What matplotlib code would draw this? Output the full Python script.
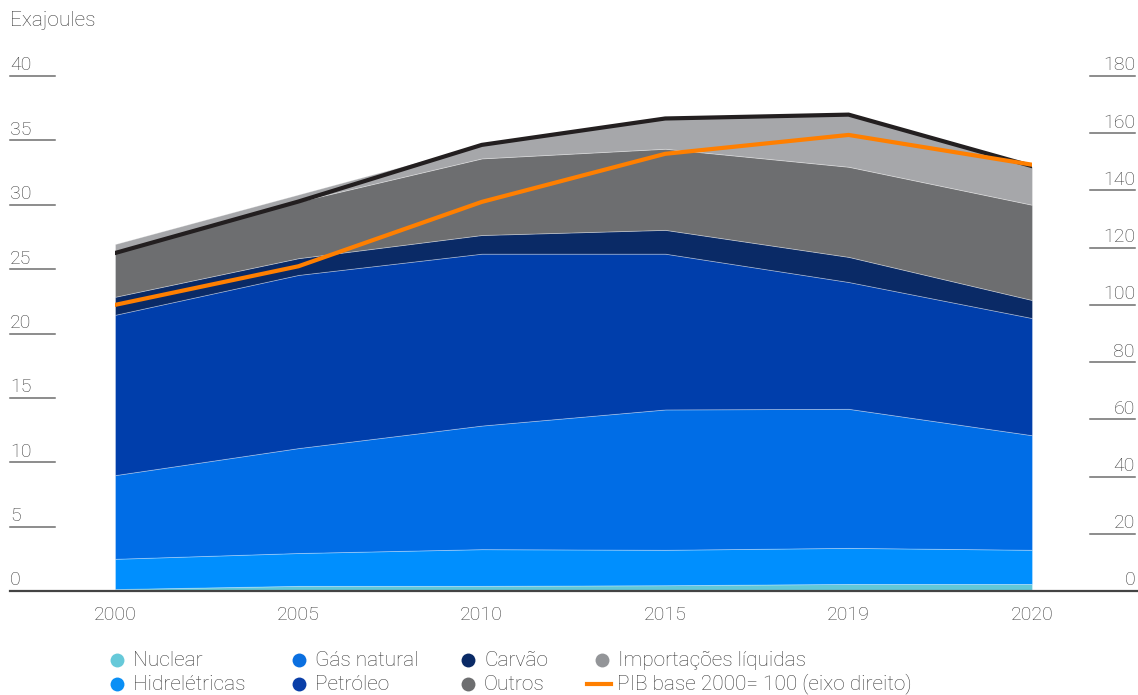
import matplotlib
matplotlib.use("Agg")
import matplotlib.pyplot as plt
import matplotlib.transforms as mtransforms
from matplotlib.lines import Line2D
import numpy as np

plt.rcParams['font.family'] = ['Roboto', 'DejaVu Sans']
plt.rcParams['font.weight'] = 'light'

# anos (espaçamento igual no eixo x)
anos = ["2000", "2005", "2010", "2015", "2019", "2020"]

# consumo por fonte, exajoules
nuclear = [0.15, 0.40, 0.40, 0.45, 0.55, 0.55]
hidreletricas = [2.35, 2.55, 2.85, 2.75, 2.80, 2.65]
gas_natural = [6.50, 8.15, 9.60, 10.90, 10.80, 8.90]
petroleo = [12.45, 13.45, 13.35, 12.10, 9.85, 9.10]
carvao = [1.40, 1.30, 1.45, 1.85, 1.95, 1.40]
outros = [3.40, 4.40, 5.95, 6.30, 7.00, 7.40]
importacoes = [0.70, 0.55, 1.05, 2.35, 4.05, 2.95]

# linha preta (total) e PIB (base 2000 = 100, eixo direito)
total = [26.25, 30.25, 34.65, 36.70, 37.00, 33.00]
pib = [100, 113.5, 136, 152.8, 159.4, 149]

nomes = ["Nuclear", "Hidrelétricas", "Gás natural", "Petróleo",
         "Carvão", "Outros", "Importações líquidas"]
cores = ["#62c8d8", "#008ffe", "#006de6", "#003eab",
         "#0a2a66", "#6d6e70", "#a6a7aa"]
cores_leg = ["#66c9d9", "#0a8ff5", "#0a6fe0", "#0a3fa8",
             "#0a2a66", "#6d6e70", "#939598"]
laranja = "#ff7f00"
cinza_txt = "#3c3c3c"
fs = 14
fs_leg = 15

x = np.arange(len(anos))

fig = plt.figure(figsize=(11.38, 6.95), dpi=100)
ax = fig.add_axes([115 / 1138, 1 - 591 / 695, 917 / 1138, 515 / 695])

ax.stackplot(x, nuclear, hidreletricas, gas_natural, petroleo, carvao,
             outros, importacoes, colors=cores,
             edgecolor=(1, 1, 1, 0.35), linewidth=0.6)
ax.plot(x, total, color="#231f20", lw=3, solid_joinstyle="miter", zorder=5)

ax.set_xlim(0, len(anos) - 1)
ax.set_ylim(0, 40)
ax.set_xticks(x)
ax.set_xticklabels(anos, fontsize=fs, color=cinza_txt)
ax.tick_params(axis="x", length=0, pad=11)
ax.set_yticks([])
for s in ax.spines.values():
    s.set_visible(False)

ax2 = ax.twinx()
ax2.plot(x, pib, color=laranja, lw=3, zorder=6)
ax2.set_ylim(0, 180)
ax2.set_yticks([])
for s in ax2.spines.values():
    s.set_visible(False)

# marcas dos eixos: traço curto com o número por cima
esq = mtransforms.blended_transform_factory(ax.transAxes, ax.transData)
dir_ = mtransforms.blended_transform_factory(ax2.transAxes, ax2.transData)
esq_txt = mtransforms.offset_copy(esq, fig=fig, y=4, units="points")
dir_txt = mtransforms.offset_copy(dir_, fig=fig, y=4, units="points")

xl0, xl1 = (10 - 115) / 917, (55 - 115) / 917
xr0, xr1 = (1090 - 115) / 917, (1135 - 115) / 917

for v in range(0, 45, 5):
    if v > 0:
        ax.plot([xl0, xl1], [v, v], transform=esq, color="#6e6e6e",
                lw=1.1, clip_on=False)
    ax.text(xl0, v, str(v), transform=esq_txt, ha="left", va="baseline",
            fontsize=fs, color=cinza_txt)

for v in range(0, 200, 20):
    if v > 0:
        ax2.plot([xr0, xr1], [v, v], transform=dir_, color="#6e6e6e",
                 lw=1.1, clip_on=False)
    ax2.text(xr1, v, str(v), transform=dir_txt, ha="right", va="baseline",
             fontsize=fs, color=cinza_txt)

# linha de base
ax.plot([xl0, 1.13], [0, 0], transform=esq, color="#444444", lw=1.6,
        clip_on=False, zorder=7)

fig.text(10 / 1138, 1 - 20 / 695, "Exajoules", ha="left", va="center",
         fontsize=fs_leg, color=cinza_txt)

# legenda em 4 colunas x 2 linhas, montada à mão
col_x = [117, 299, 468, 602]
lin_y = [660, 684]
W, H = 1138, 695
for i, (nome, cor) in enumerate(zip(nomes, cores_leg)):
    cx, cy = col_x[i // 2], lin_y[i % 2]
    fig.add_artist(Line2D([cx / W], [1 - cy / H], transform=fig.transFigure,
                          ls="none", marker="o", markersize=10,
                          markerfacecolor=cor, markeredgecolor="none"))
    fig.text((cx + 16) / W, 1 - cy / H, nome, ha="left", va="center",
             fontsize=fs_leg, color=cinza_txt)
fig.add_artist(Line2D([587 / W, 611 / W], [1 - 684 / H] * 2,
                      transform=fig.transFigure, color=laranja, lw=3))
fig.text(617 / W, 1 - 684 / H, "PIB base 2000= 100 (eixo direito)",
         ha="left", va="center", fontsize=fs_leg, color=cinza_txt)

fig.savefig("out.png", dpi=100)
